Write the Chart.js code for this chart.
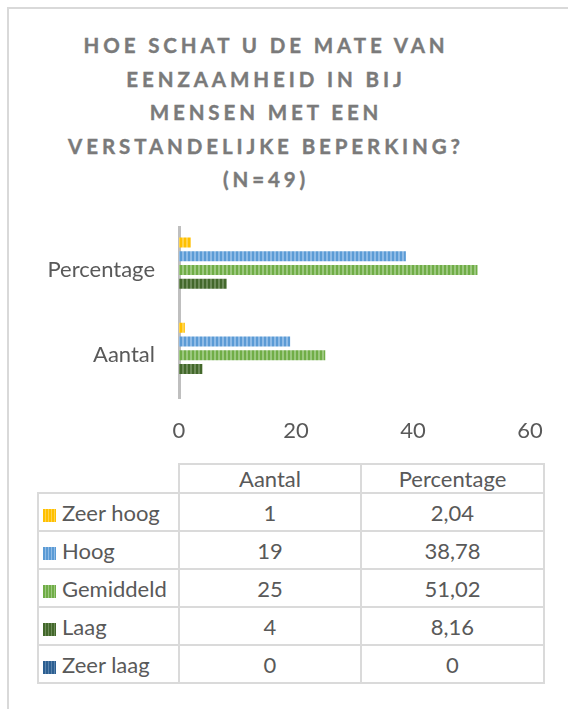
<!DOCTYPE html>
<html>
<head>
<meta charset="utf-8">
<script src="https://cdn.jsdelivr.net/npm/chart.js"></script>
<style>
  html, body { margin: 0; padding: 0; background: #fff; }
  body { width: 568px; height: 709px; position: relative; overflow: hidden; font-family: Lato, "Open Sans", sans-serif; color: #595959; }
  .frame { position: absolute; left: 7px; top: 7px; width: 600px; height: 720px; border-left: 2px solid #d9d9d9; border-top: 2px solid #d9d9d9; }
  #title { position: absolute; left: 0; top: 29px; width: 532px; text-align: center; font-weight: bold; font-size: 20.5px; line-height: 33.5px; letter-spacing: 3.9px; color: #7a7a7a; -webkit-text-stroke: 0.4px #7a7a7a; }
  #wrap { position: absolute; left: 0; top: 190px; width: 568px; height: 264px; }
  table { position: absolute; left: 37px; top: 463px; border-collapse: collapse; table-layout: fixed; font-size: 22px; }
  td { border: 2px solid #dadada; text-align: center; padding: 0; height: 36px; white-space: nowrap; }
  tr.head td { height: 27px; }
  td.empty { border-top: none; border-left: none; }
  td.name { text-align: left; padding-left: 4px; }
  .sw { display: inline-block; width: 13px; height: 13px; margin-right: 6px; vertical-align: -1px; }
</style>
</head>
<body>
<div class="frame"></div>
<div id="title">HOE SCHAT U DE MATE VAN<br>EENZAAMHEID IN BIJ<br>MENSEN MET EEN<br>VERSTANDELIJKE BEPERKING?<br>(N=49)</div>
<div id="wrap"><canvas id="mychart" width="568" height="264"></canvas></div>
<table id="datatable"></table>
<script>
// categorieën (van boven naar beneden)
const categories = ['Percentage', 'Aantal'];
const tableColumns = ['Aantal', 'Percentage'];

// reeksen
const seriesNames = ['Zeer hoog', 'Hoog', 'Gemiddeld', 'Laag', 'Zeer laag'];
const aantalValues = [1, 19, 25, 4, 0];
const percentageValues = [2.04, 38.78, 51.02, 8.16, 0];
const percentageLabels = ['2,04', '38,78', '51,02', '8,16', '0'];

// as
const xTicks = [0, 20, 40, 60];

const baseColors = ['#ffc000', '#5b9bd5', '#70ad47', '#43682b', '#2c5f91'];
const lightColors = ['#ffd34d', '#8fbbe6', '#9cc87f', '#6e8c5a', '#5a82ab'];

function stripes(base, light) {
  const c = document.createElement('canvas');
  c.width = 4; c.height = 4;
  const g = c.getContext('2d');
  g.fillStyle = base; g.fillRect(0, 0, 4, 4);
  g.fillStyle = light; g.fillRect(2, 0, 2, 4);
  return g.createPattern(c, 'repeat');
}

const ctx = document.getElementById('mychart').getContext('2d');

const datasets = seriesNames.map((name, i) => ({
  label: name,
  data: [percentageValues[i], aantalValues[i]],
  backgroundColor: stripes(baseColors[i], lightColors[i]),
  borderWidth: 0,
  categoryPercentage: 0.805,
  barPercentage: 0.73
}));

new Chart(ctx, {
  type: 'bar',
  data: { labels: categories, datasets: datasets },
  options: {
    responsive: false,
    animation: false,
    indexAxis: 'y',
    layout: { padding: { top: 0, right: 38, left: 0, bottom: 0 } },
    plugins: { legend: { display: false }, tooltip: { enabled: false } },
    scales: {
      x: {
        min: 0, max: 60,
        afterBuildTicks: s => { s.ticks = xTicks.map(v => ({ value: v })); },
        afterFit: s => { s.height = 56; },
        grid: { display: false, drawTicks: false },
        border: { display: false },
        ticks: { padding: 20, color: '#595959', font: { family: 'Lato', size: 22 } }
      },
      y: {
        afterFit: s => { s.width = 179; },
        grid: { display: false, drawTicks: false },
        border: { display: true, color: '#bfbfbf', width: 3 },
        ticks: { padding: 24, color: '#595959', font: { family: 'Lato', size: 22 } }
      }
    }
  }
});

// datatabel onder de grafiek
const table = document.getElementById('datatable');
const widths = [141, 182, 183];
let html = '<colgroup>' + widths.map(w => '<col style="width:' + w + 'px">').join('') + '</colgroup>';
html += '<tr class="head"><td class="empty"></td>' + tableColumns.map(c => '<td>' + c + '</td>').join('') + '</tr>';
seriesNames.forEach((name, i) => {
  html += '<tr><td class="name"><span class="sw" style="background:repeating-linear-gradient(90deg,' +
    baseColors[i] + ' 0 2px,' + lightColors[i] + ' 2px 3px)"></span>' + name + '</td>' +
    '<td>' + aantalValues[i] + '</td><td>' + percentageLabels[i] + '</td></tr>';
});
table.innerHTML = html;
</script>
</body>
</html>
